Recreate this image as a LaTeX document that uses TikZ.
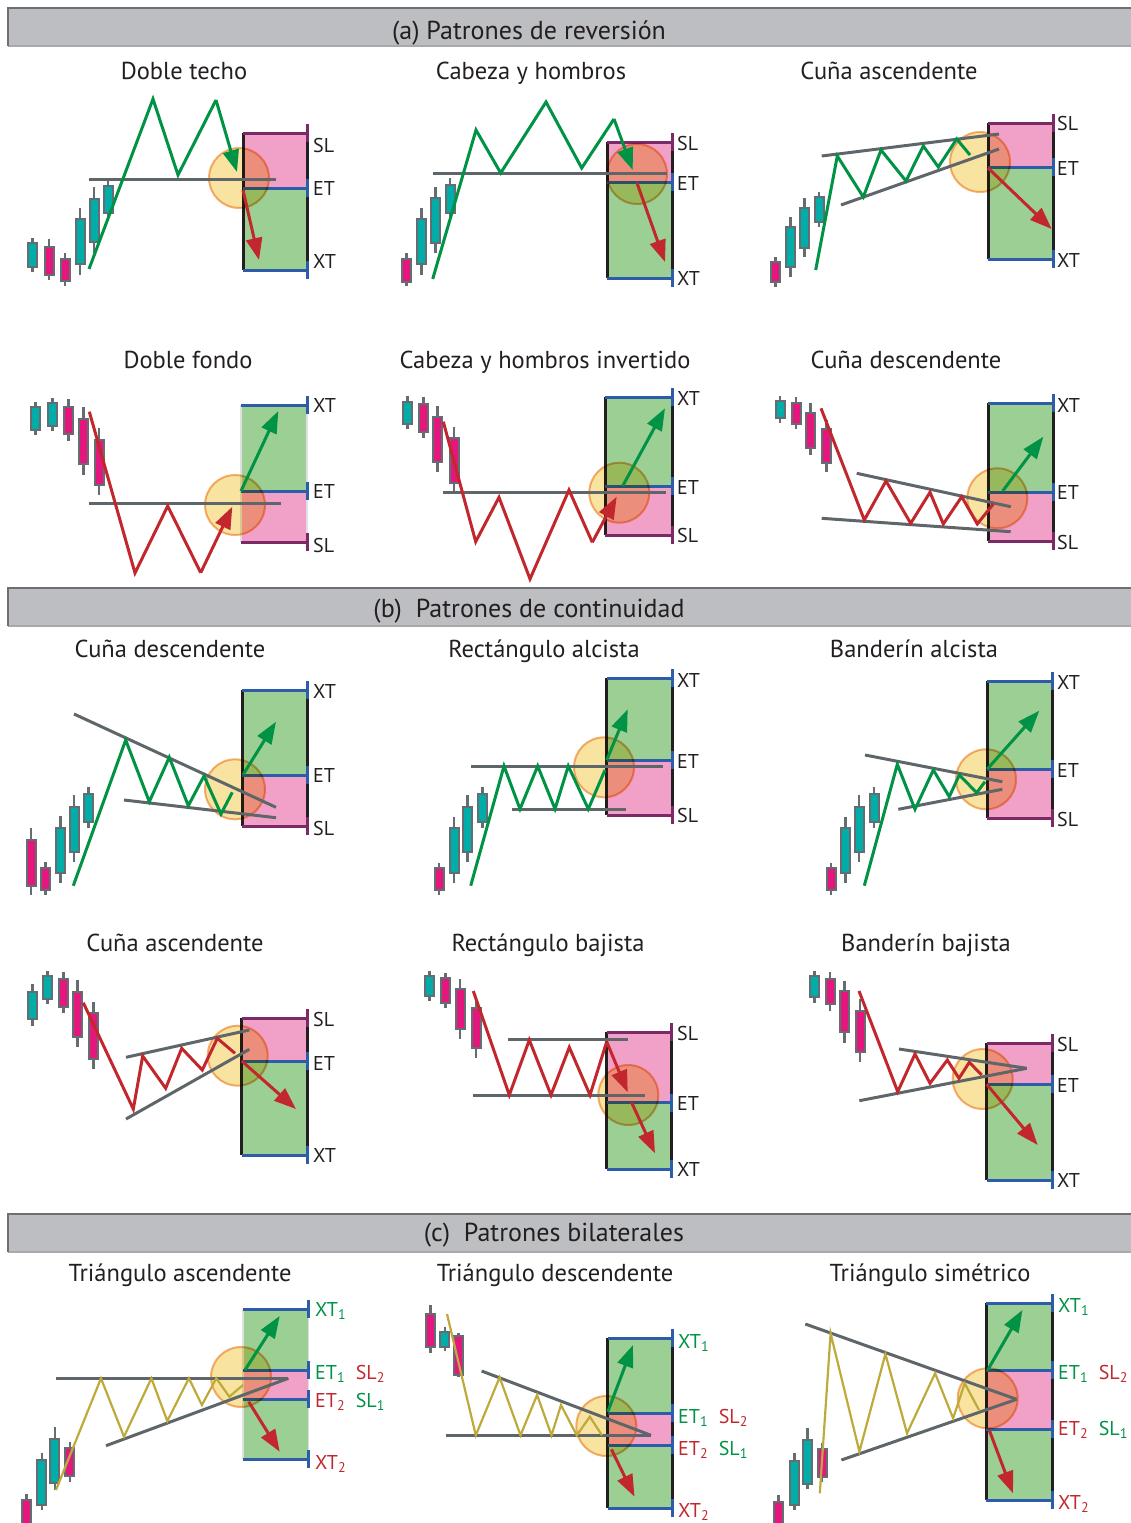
\documentclass[tikz,border=0pt]{standalone}
\usepackage{fontspec}
\setmainfont{PT Sans}
\usetikzlibrary{arrows.meta}
\definecolor{zgreen}{RGB}{0,146,69}
\definecolor{zred}{RGB}{193,39,45}
\definecolor{zolive}{RGB}{190,170,58}
\definecolor{cteal}{RGB}{0,173,168}
\definecolor{cmag}{RGB}{229,23,126}
\definecolor{cgray}{RGB}{102,109,112}
\definecolor{lgray}{RGB}{95,102,105}
\definecolor{bxgreen}{RGB}{156,207,147}
\definecolor{bxpink}{RGB}{241,161,199}
\definecolor{cpurple}{RGB}{123,42,103}
\definecolor{cblue}{RGB}{45,92,169}
\definecolor{cblack}{RGB}{35,31,32}
\definecolor{cfill}{RGB}{249,227,160}
\definecolor{cstroke}{RGB}{245,180,124}
\definecolor{hdrfill}{RGB}{189,190,193}
\definecolor{hdrline}{RGB}{109,111,114}
\definecolor{txt}{RGB}{35,31,32}
\tikzset{
  zz/.style={line width=3pt, line join=miter},
  zg/.style={zz, draw=zgreen},
  zr/.style={zz, draw=zred},
  zo/.style={line width=2.2pt, line join=miter, draw=zolive},
  gline/.style={line width=3pt, draw=lgray},
  tip/.style={-{Triangle[length=22pt,width=16pt]}},
  garrow/.style={line width=3pt, draw=zgreen, fill=zgreen, tip},
  rarrow/.style={line width=3pt, draw=zred, fill=zred, tip},
  wick/.style={line width=2.5pt, draw=cgray},
  cbody/.style={line width=2pt, draw=cgray},
  bxedge/.style={line width=3pt, draw=cblack},
  softedge/.style={line width=1.5pt, draw=black!12},
  slline/.style={line width=3pt, draw=cpurple},
  etline/.style={line width=3pt, draw=cblue},
  circ/.style={fill=cfill, draw=cstroke, line width=2pt, blend mode=multiply},
  ttl/.style={font=\fontsize{24.5}{28}\selectfont, text=txt, anchor=base, inner sep=0pt},
  lbl/.style={font=\fontsize{20}{22}\selectfont, text=txt, anchor=base west, inner sep=0pt},
  hdr/.style={font=\fontsize{26}{30}\selectfont, text=txt, anchor=base, inner sep=0pt},
}
\newcommand{\cndl}[6]{%
  \draw[wick] (#1,#2) -- (#1,#5);
  \draw[cbody, fill=#6] (#1-4.5,#3) rectangle (#1+4.5,#4);}
\newcommand{\shortbox}[5]{%
  \fill[bxpink] (#1,#3) rectangle (#2,#4);
  \fill[bxgreen] (#1,#4) rectangle (#2,#5);
  \draw[bxedge] (#1,#3) -- (#1,#5);
  \draw[bxedge] (#2,#3) -- (#2,#5);
  \draw[slline] (#1,#3) -- (#2,#3) (#2,#3-9) -- (#2,#3+9);
  \draw[etline] (#1,#4) -- (#2,#4) (#2,#4-9) -- (#2,#4+9);
  \draw[etline] (#1,#5) -- (#2,#5) (#2,#5-9) -- (#2,#5+9);}
\newcommand{\longbox}[6][bxedge]{%
  \fill[bxgreen] (#2,#4) rectangle (#3,#5);
  \fill[bxpink] (#2,#5) rectangle (#3,#6);
  \draw[#1] (#2,#4) -- (#2,#6);
  \draw[#1] (#3,#4) -- (#3,#6);
  \draw[etline] (#2,#4) -- (#3,#4) (#3,#4-9) -- (#3,#4+9);
  \draw[etline] (#2,#5) -- (#3,#5) (#3,#5-9) -- (#3,#5+9);
  \draw[slline] (#2,#6) -- (#3,#6) (#3,#6-9) -- (#3,#6+9);}
\newcommand{\bibox}[7][bxedge]{%
  \fill[bxgreen] (#2,#4) rectangle (#3,#5);
  \fill[bxpink] (#2,#5) rectangle (#3,#6);
  \fill[bxgreen] (#2,#6) rectangle (#3,#7);
  \draw[#1] (#2,#4) -- (#2,#7);
  \draw[#1] (#3,#4) -- (#3,#7);
  \draw[etline] (#2,#4) -- (#3,#4) (#3,#4-9) -- (#3,#4+9);
  \draw[etline] (#2,#5) -- (#3,#5) (#3,#5-9) -- (#3,#5+9);
  \draw[etline] (#2,#6) -- (#3,#6) (#3,#6-9) -- (#3,#6+9);
  \draw[etline] (#2,#7) -- (#3,#7) (#3,#7-9) -- (#3,#7+9);}
\newcommand{\hdrbar}[1]{%
  \fill[hdrfill] (8,#1) rectangle (1132,#1+38);
  \draw[line width=1.2pt, draw=hdrline!60] (8,#1+38) -- (1132,#1+38);
  \draw[line width=2pt, draw=hdrline] (8,#1+38) -- (8,#1) -- (1132,#1);}
\newcommand{\gs}[1]{\textcolor{zgreen}{#1}}
\newcommand{\rs}[1]{\textcolor{zred}{#1}}
\begin{document}
\begin{tikzpicture}[x=1pt,y=-1pt]
\useasboundingbox (0,0) rectangle (1130,1523);
% ---------- headers
\hdrbar{8}
\hdrbar{588}
\hdrbar{1214}
\node[hdr] (ha) at (529,39) {(a) Patrones de reversión};
\node[hdr] (hb) at (529,617) {(b)\ \ Patrones de continuidad};
\node[hdr] (hc) at (554,1241) {(c)\ \ Patrones bilaterales};
% ---------- titles
\node[ttl] (t1) at (184,79) {Doble techo};
\node[ttl] (t2) at (531,79) {Cabeza y hombros};
\node[ttl] (t3) at (889,79) {Cuña ascendente};
\node[ttl] (t4) at (188,368) {Doble fondo};
\node[ttl] (t5) at (545,368) {Cabeza y hombros invertido};
\node[ttl] (t6) at (906,368) {Cuña descendente};
\node[ttl] (t7) at (170,657) {Cuña descendente};
\node[ttl] (t8) at (544,657) {Rectángulo alcista};
\node[ttl] (t9) at (914,657) {Banderín alcista};
\node[ttl] (t10) at (175,951) {Cuña ascendente};
\node[ttl] (t11) at (548,951) {Rectángulo bajista};
\node[ttl] (t12) at (926,951) {Banderín bajista};
\node[ttl] (t13) at (180,1281) {Triángulo ascendente};
\node[ttl] (t14) at (555,1281) {Triángulo descendente};
\node[ttl] (t15) at (930,1281) {Triángulo simétrico};
% ================= A1 Doble techo
\cndl{32.7}{238}{243}{267}{272}{cteal}
\cndl{49}{239}{247}{275}{280}{cmag}
\cndl{65}{253}{259}{281}{286}{cmag}
\cndl{80}{208}{219}{264}{275}{cteal}
\cndl{94}{187}{199}{242}{253}{cteal}
\cndl{108}{180}{186}{213}{218}{cteal}
\shortbox{243}{307}{133}{188}{270}
\draw[circ] (239,178) circle[radius=30];
\draw[gline] (89,179) -- (276,179);
\draw[zg] (89,269) -- (153,99) -- (178,175) -- (216,100);
\draw[garrow] (216,100) -- (237,172);
\draw[rarrow] (243,190) -- (259,260);
\node[lbl] (a1sl) at (313,152) {SL};
\node[lbl] (a1et) at (313,195) {ET};
\node[lbl] (a1xt) at (313,268) {XT};
% ================= A2 Cabeza y hombros
\cndl{406.7}{253}{259}{282}{286}{cmag}
\cndl{421.7}{208}{219}{264}{275}{cteal}
\cndl{435.3}{187}{198}{243}{253}{cteal}
\cndl{450}{178}{185}{213}{218}{cteal}
\shortbox{607}{672}{142}{182}{278}
\draw[circ] (637,174) circle[radius=30];
\draw[gline] (433,173) -- (667,173);
\draw[zg] (432.7,279) -- (476,130) -- (500.7,173) -- (546,102) -- (581.7,168) -- (614,119);
\draw[garrow] (614,119) -- (632.7,170);
\draw[rarrow] (637,183) -- (665,262);
\node[lbl] (a2sl) at (677,150) {SL};
\node[lbl] (a2et) at (677,190) {ET};
\node[lbl] (a2xt) at (677,285) {XT};
% ================= A3 Cuña ascendente
\cndl{775.7}{257}{262}{282}{287}{cmag}
\cndl{790.7}{217}{227}{267}{277}{cteal}
\cndl{804.3}{198}{208}{248}{257}{cteal}
\cndl{819}{192}{197}{222}{227}{cteal}
\shortbox{988}{1053}{123}{167}{259}
\draw[circ] (980,162) circle[radius=30];
\draw[gline] (821.7,156) -- (999,134);
\draw[gline] (841,205) -- (999,149);
\draw[zg] (815.7,270) -- (837.3,156) -- (863.3,197) -- (881,150) -- (906,181) -- (923.3,146) -- (938.3,167) -- (956.7,139) -- (970,155);
\draw[rarrow] (988,168) -- (1051.7,229);
\node[lbl] (a3sl) at (1057,130) {SL};
\node[lbl] (a3et) at (1057,175) {ET};
\node[lbl] (a3xt) at (1057,267) {XT};
% ================= A4 Doble fondo
\cndl{35.7}{401.7}{406.7}{430}{435}{cteal}
\cndl{52.3}{398}{403}{425.7}{431}{cteal}
\cndl{68.3}{399}{406.7}{434}{440.7}{cmag}
\cndl{83.3}{407}{419}{464}{475}{cmag}
\cndl{99}{428}{440}{485}{495}{cmag}
\longbox[softedge]{241}{307}{405}{491}{542}
\draw[circ] (235,505) circle[radius=30];
\draw[gline] (89,503.3) -- (281,503.3);
\draw[zr] (89.3,411.7) -- (135,573) -- (167.7,506) -- (200.7,572.7);
\draw[rarrow] (200.7,572.7) -- (232.3,506.7);
\draw[garrow] (241,491) -- (278.3,411);
\node[lbl] (a4xt) at (313,412) {XT};
\node[lbl] (a4et) at (313,498) {ET};
\node[lbl] (a4sl) at (313,552) {SL};
% ================= A5 Cabeza y hombros invertido
\cndl{407.7}{396}{401.7}{424.3}{429.3}{cteal}
\cndl{423.3}{397.3}{404}{431.7}{438.3}{cmag}
\cndl{437.7}{405.7}{417.3}{461.7}{472.3}{cmag}
\cndl{454}{426.7}{438.3}{482.7}{492.3}{cmag}
\longbox{605}{672}{397}{486}{535}
\draw[circ] (619.3,492.7) circle[radius=30];
\draw[gline] (443.3,492.7) -- (665.7,492.7);
\draw[zr] (443.3,421.7) -- (475.7,541.7) -- (499,497.3) -- (530,579) -- (569,490) -- (592.3,542.3);
\draw[rarrow] (592.3,542.3) -- (616.7,496.7);
\draw[garrow] (622.7,486) -- (665,408.3);
\node[lbl] (a5xt) at (677,405) {XT};
\node[lbl] (a5et) at (677,494) {ET};
\node[lbl] (a5sl) at (677,542) {SL};
% ================= A6 Cuña descendente
\cndl{780}{396}{400.7}{418.3}{422.7}{cteal}
\cndl{796}{397.3}{402.7}{424}{429.3}{cmag}
\cndl{810.7}{403.3}{412.7}{447.7}{455}{cmag}
\cndl{826.7}{420}{429}{463.3}{472.3}{cmag}
\longbox{988}{1053}{403}{492}{541}
\draw[circ] (997.3,498.3) circle[radius=30];
\draw[gline] (856.7,473.3) -- (1010.7,506.7);
\draw[gline] (821.7,518.3) -- (1010.7,531.7);
\draw[zr] (821,408.3) -- (864.3,520) -- (886,481) -- (910.7,523.3) -- (930,492.3) -- (943.3,524) -- (961.7,496.7) -- (977.3,524) -- (993.3,504);
\draw[garrow] (1002.7,491) -- (1043.3,436.7);
\node[lbl] (a6xt) at (1057,412) {XT};
\node[lbl] (a6et) at (1057,499) {ET};
\node[lbl] (a6sl) at (1057,549) {SL};
% ================= B1 Cuña descendente
\cndl{31}{828.3}{840}{886}{895}{cmag}
\cndl{45.7}{861.7}{867.7}{890}{895}{cmag}
\cndl{60.3}{816}{828.3}{872.7}{882.7}{cteal}
\cndl{74}{795}{806.7}{851.7}{861.7}{cteal}
\cndl{88.3}{786.7}{794}{821.7}{828.3}{cteal}
\longbox{242.3}{307.3}{690}{775}{826}
\draw[circ] (235,789.3) circle[radius=30];
\draw[gline] (74,714) -- (276,807.3);
\draw[gline] (124,800) -- (276,817.7);
\draw[zg] (73.3,885.7) -- (125.7,740) -- (149.3,801.7) -- (169.3,757.3) -- (188.3,805.7) -- (204,776) -- (221,814) -- (232.3,792.3);
\draw[garrow] (243.3,774.3) -- (276,721.7);
\node[lbl] (b1xt) at (313,698) {XT};
\node[lbl] (b1et) at (313,782) {ET};
\node[lbl] (b1sl) at (313,835) {SL};
% ================= B2 Rectángulo alcista
\cndl{439}{862.7}{868.3}{890}{895}{cmag}
\cndl{454}{816.7}{828.3}{872.7}{883.3}{cteal}
\cndl{467.3}{795}{806.7}{851.7}{862.3}{cteal}
\cndl{482.3}{786.7}{794}{821.7}{828.3}{cteal}
\longbox{606.7}{672.3}{678.3}{760}{815}
\draw[circ] (604,767.3) circle[radius=30];
\draw[gline] (471,766) -- (662.7,766);
\draw[gline] (512.3,809) -- (625.7,809);
\draw[zg] (470.7,885.7) -- (504,766) -- (520,809) -- (537.7,766) -- (555,809) -- (568.3,766) -- (588.3,809) -- (605,770);
\draw[garrow] (606.7,760) -- (627.7,709.3);
\node[lbl] (b2xt) at (677,687) {XT};
\node[lbl] (b2et) at (677,768) {ET};
\node[lbl] (b2sl) at (677,822) {SL};
% ================= B3 Banderín alcista
\cndl{831}{862.7}{868.3}{890}{895}{cmag}
\cndl{845.7}{816.7}{828.3}{872.7}{883.3}{cteal}
\cndl{859}{795}{806.7}{851.7}{862.3}{cteal}
\cndl{874}{786.7}{794}{821.7}{828.3}{cteal}
\longbox{987.3}{1052.7}{681}{769}{818.3}
\draw[circ] (986,779.3) circle[radius=30];
\draw[gline] (865,755) -- (1002.3,781.7);
\draw[gline] (898.3,809.3) -- (1002.3,789.3);
\draw[zg] (864.3,885.7) -- (897.3,764.3) -- (915,809.3) -- (933.3,770) -- (949.3,796.7) -- (959.3,775) -- (976.7,792.7) -- (985,781.7);
\draw[garrow] (987.3,769) -- (1039.3,710.7);
\node[lbl] (b3xt) at (1057,689) {XT};
\node[lbl] (b3et) at (1057,777) {ET};
\node[lbl] (b3sl) at (1057,826) {SL};
% ================= B4 Cuña ascendente
\cndl{32.3}{984}{991.7}{1019.3}{1025.7}{cteal}
\cndl{47.3}{971}{976}{999}{1004.3}{cteal}
\cndl{63.3}{972.3}{979.3}{1006.7}{1013.3}{cmag}
\cndl{77.7}{980}{992.3}{1037.3}{1047.3}{cmag}
\cndl{93.3}{1001.7}{1013.3}{1059}{1069.3}{cmag}
\shortbox{241.7}{307.3}{1018.3}{1061}{1155}
\draw[circ] (237.7,1055.7) circle[radius=30];
\draw[gline] (126,1057.3) -- (249.3,1030);
\draw[gline] (126,1119) -- (249.3,1049.3);
\draw[zr] (83.3,1002.7) -- (133.3,1109) -- (142.7,1056) -- (165.7,1088.3) -- (181.7,1048.3) -- (202.3,1070) -- (217.3,1038.3) -- (235,1053.3);
\draw[rarrow] (241.7,1061) -- (296,1109);
\node[lbl] (b4sl) at (313,1026) {SL};
\node[lbl] (b4et) at (313,1070) {ET};
\node[lbl] (b4xt) at (313,1162) {XT};
% ================= B5 Rectángulo bajista
\cndl{429.3}{971}{975.7}{995.7}{1000.7}{cteal}
\cndl{445.7}{972.7}{978.3}{1002.7}{1008.3}{cmag}
\cndl{460}{979.3}{989.3}{1029.3}{1039}{cmag}
\cndl{476}{998.3}{1008.3}{1048.3}{1057.7}{cmag}
\shortbox{606.7}{671.7}{1032.3}{1102.7}{1169.3}
\draw[circ] (628.3,1095) circle[radius=30];
\draw[gline] (508.3,1039.3) -- (627.7,1039.3);
\draw[gline] (473.3,1095) -- (645,1095);
\draw[zr] (473.3,991) -- (509.3,1095) -- (529.3,1040) -- (551,1095) -- (569.3,1047.3) -- (590,1095) -- (606.7,1041.7);
\draw[rarrow] (606.7,1041.7) -- (627.7,1092.3);
\draw[rarrow] (631.7,1102.7) -- (655,1153.3);
\node[lbl] (b5sl) at (677,1040) {SL};
\node[lbl] (b5et) at (677,1110) {ET};
\node[lbl] (b5xt) at (677,1176) {XT};
% ================= B6 Banderín bajista
\cndl{814.3}{971}{976}{997.3}{1002.7}{cteal}
\cndl{830}{972.3}{979}{1004}{1010.7}{cmag}
\cndl{844.3}{980.7}{991}{1032.3}{1043.3}{cmag}
\cndl{860}{999.3}{1010.7}{1052.3}{1062.3}{cmag}
\shortbox{986.7}{1052.3}{1043.3}{1084.3}{1180}
\draw[circ] (982.7,1079) circle[radius=30];
\draw[gline] (899,1049) -- (1026.7,1068.3);
\draw[gline] (859.3,1100.7) -- (1026.7,1068.3);
\draw[zr] (859,991) -- (897.7,1091.7) -- (915,1054) -- (930,1083.3) -- (947.3,1060) -- (959,1078.3) -- (969.3,1062.3) -- (981.7,1075);
\draw[rarrow] (986.7,1084.3) -- (1037.7,1145);
\node[lbl] (b6sl) at (1057,1051) {SL};
\node[lbl] (b6et) at (1057,1092) {ET};
\node[lbl] (b6xt) at (1057,1187) {XT};
% ================= C1 Triángulo ascendente
\cndl{26.7}{1494}{1500}{1530}{1535}{cmag}
\cndl{41.8}{1453}{1460}{1505}{1510}{cteal}
\cndl{54.8}{1427}{1439}{1483}{1490}{cteal}
\cndl{69.9}{1442}{1448}{1476}{1482}{cmag}
\bibox[softedge]{243}{308.6}{1309.3}{1370}{1399.3}{1459}
\draw[circ] (241,1377) circle[radius=30];
\draw[gline] (56.2,1378.3) -- (288.4,1378.3);
\draw[gline] (106,1445.7) -- (288.4,1378.3);
\draw[zo] (56,1490) -- (101,1378.3) -- (124,1436.7) -- (151.4,1378.3) -- (167.3,1421) -- (188.9,1378.3) -- (201.9,1405) -- (216.3,1378.3) -- (229.3,1396.7) -- (243,1385);
\draw[garrow] (245,1370) -- (279.7,1316);
\draw[rarrow] (248.7,1401.7) -- (279.7,1451.7);
\node[lbl] (c1xt1) at (315,1316) {\gs{XT\textsubscript{1}}};
\node[lbl] (c1et1) at (315,1379) {\gs{ET\textsubscript{1}}\ \ \rs{SL\textsubscript{2}}};
\node[lbl] (c1et2) at (315,1407) {\rs{ET\textsubscript{2}}\ \ \gs{SL\textsubscript{1}}};
\node[lbl] (c1xt2) at (315,1469) {\rs{XT\textsubscript{2}}};
% ================= C2 Triángulo descendente
\cndl{430.4}{1305}{1314}{1346.7}{1353.3}{cmag}
\cndl{444.8}{1326.7}{1331.7}{1347.3}{1350.7}{cteal}
\cndl{458.5}{1333.3}{1336}{1375}{1377.3}{cmag}
\bibox{607.8}{672.7}{1338.3}{1413.3}{1445.3}{1508.3}
\draw[circ] (606.3,1426) circle[radius=30];
\draw[gline] (445.6,1435.3) -- (651,1435.3);
\draw[gline] (481.6,1371) -- (651,1435.3);
\draw[zo] (447,1314) -- (475.8,1435.3) -- (499.6,1377.3) -- (520.5,1435.3) -- (537.1,1395) -- (551.5,1435.3) -- (561,1405) -- (576.8,1435.3) -- (589.8,1416.7) -- (602,1435.3);
\draw[garrow] (607.8,1411.7) -- (633,1345);
\draw[rarrow] (611.4,1449.3) -- (634.5,1496.7);
\node[lbl] (c2xt1) at (678,1348) {\gs{XT\textsubscript{1}}};
\node[lbl] (c2et1) at (678,1423) {\gs{ET\textsubscript{1}}\ \ \rs{SL\textsubscript{2}}};
\node[lbl] (c2et2) at (678,1455) {\rs{ET\textsubscript{2}}\ \ \gs{SL\textsubscript{1}}};
\node[lbl] (c2xt2) at (678,1517) {\rs{XT\textsubscript{2}}};
% ================= C3 Triángulo simétrico
\cndl{778.7}{1495}{1501.7}{1530}{1535}{cmag}
\cndl{794.5}{1453.3}{1460.7}{1505}{1510}{cteal}
\cndl{807.5}{1428.3}{1440}{1484}{1489.3}{cteal}
\cndl{822}{1442.7}{1449.3}{1476.7}{1481.7}{cmag}
\bibox{986.3}{1052.6}{1303.3}{1370}{1429.3}{1500}
\draw[circ] (987.7,1398.3) circle[radius=30];
\draw[gline] (805.3,1324) -- (1016.6,1399.3);
\draw[gline] (841.4,1460) -- (1016.6,1399.3);
\draw[zo] (819.8,1493.3) -- (830.6,1333.3) -- (859.4,1451.7) -- (885.4,1354) -- (907,1433.3) -- (935.1,1373.3) -- (953.1,1418.3) -- (964.7,1383.3) -- (979,1410);
\draw[garrow] (987.7,1370) -- (1022.4,1310);
\draw[rarrow] (989.2,1430) -- (1013,1493.3);
\node[lbl] (c3xt1) at (1058,1312) {\gs{XT\textsubscript{1}}};
\node[lbl] (c3et1) at (1058,1379) {\gs{ET\textsubscript{1}}\ \ \rs{SL\textsubscript{2}}};
\node[lbl] (c3et2) at (1058,1435) {\rs{ET\textsubscript{2}}\ \ \gs{SL\textsubscript{1}}};
\node[lbl] (c3xt2) at (1058,1509) {\rs{XT\textsubscript{2}}};
\end{tikzpicture}
\end{document}
